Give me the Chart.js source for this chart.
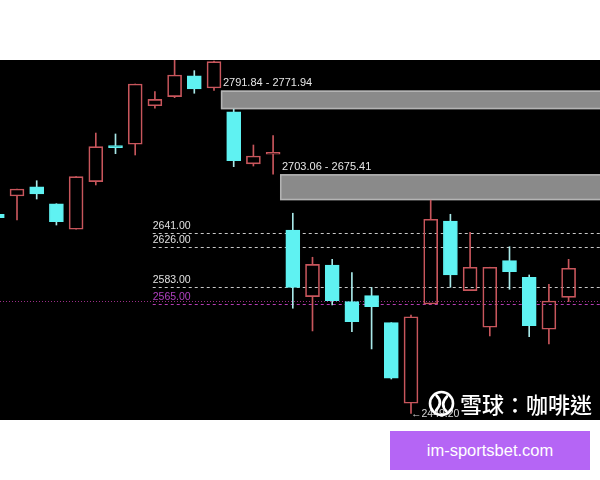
<!DOCTYPE html>
<html>
<head>
<meta charset="utf-8">
<script src="https://cdn.jsdelivr.net/npm/chart.js@4.4.1/dist/chart.umd.min.js"></script>
<style>
    html, body { margin: 0; padding: 0; background: #ffffff; }
    #page { position: relative; width: 600px; height: 480px; overflow: hidden; background: #ffffff; }
    #chart-box { position: absolute; left: 0; top: 60px; width: 600px; height: 360px; background: #000000; }
    #mark { position: absolute; left: 428px; top: 390px; height: 26px; display: flex; align-items: center; }
    #mark-text { margin-left: 5px; color: #ffffff; font: 500 22px "Noto Sans CJK TC", sans-serif; line-height: 22px; }
    #btn { position: absolute; left: 390px; top: 431px; width: 200px; height: 39px; background: #b565f5;
           color: #ffffff; font: 16.5px "Liberation Sans", Arial, sans-serif; line-height: 39px; text-align: center; }
</style>
</head>
<body>
<div id="page">
    <div id="chart-box"><canvas id="chart-k"></canvas></div>
    <div id="mark">
        <svg width="27" height="27" viewBox="-13.5 -13.5 27 27">
            <circle cx="0" cy="0" r="11.5" fill="none" stroke="#ffffff" stroke-width="2.6"/>
            <path d="M -5 -8 Q 2 -1 -5.5 7" fill="none" stroke="#ffffff" stroke-width="2.6" stroke-linecap="round"/>
            <path d="M 5 8 Q -2 1 5.5 -7" fill="none" stroke="#ffffff" stroke-width="2.6" stroke-linecap="round"/>
        </svg>
        <span id="mark-text">雪球：咖啡迷</span>
    </div>
    <div id="btn">im-sportsbet.com</div>
</div>
<script>
// candle index 0 is the one cut off at the left edge
const opens  = [2660.5, 2679.9, 2689.5, 2671.7, 2644.6, 2695.1, 2733.3, 2734.8, 2775.7, 2785.3,
                2807.5, 2794.5, 2769.3, 2713.9, 2724.2, 2643.8, 2573.1, 2606.7, 2567.8, 2574.1,
                2545.5, 2460.0, 2565.3, 2653.4, 2579.4, 2540.6, 2611.3, 2593.6, 2538.5, 2572.4];
const highs  = [2661.0, 2687.3, 2696.1, 2671.7, 2700.4, 2746.7, 2745.7, 2798.7, 2790.6, 2830.0,
                2812.9, 2823.0, 2771.94, 2734.0, 2743.9, 2661.6, 2614.9, 2612.7, 2598.5, 2583.0,
                2545.5, 2553.6, 2675.41, 2660.5, 2641.4, 2604.3, 2626.1, 2596.1, 2586.2, 2612.7];
const lows   = [2656.0, 2654.4, 2676.7, 2649.1, 2644.6, 2691.6, 2724.8, 2723.4, 2773.0, 2784.2,
                2788.9, 2791.84, 2711.0, 2711.7, 2703.06, 2560.8, 2536.7, 2564.3, 2535.9, 2517.6,
                2485.7, 2449.2, 2565.3, 2583.0, 2579.4, 2531.4, 2580.9, 2530.6, 2522.9, 2567.8];
const closes = [2656.9, 2687.3, 2682.0, 2652.6, 2700.4, 2732.2, 2731.2, 2798.7, 2782.5, 2808.3,
                2793.4, 2822.4, 2717.4, 2722.3, 2726.3, 2583.0, 2607.4, 2568.8, 2546.5, 2562.5,
                2486.5, 2551.8, 2655.2, 2596.1, 2604.3, 2604.3, 2599.6, 2542.3, 2568.5, 2603.2];

// gap bands: top, bottom, candle index they start after
const gapTops    = [2791.84, 2703.06];
const gapBottoms = [2771.94, 2675.41];
const gapFrom    = [11, 14];

// horizontal marks on the right
const levelPrices = [2641.00, 2626.00, 2583.00, 2565.00];
const levelMagenta = [false, false, false, true];
const priceLine = 2568.8;
const lowMarkIdx = 21;

const UP = '#c8565c';
const DOWN = '#5ff2f2';

/**
 * Builds {x, y:[a,b]} points for the bodies and both wick halves.
 */
function buildSeries() {
    const bodies = [], upper = [], lower = [];
    opens.forEach((o, i) => {
        const c = closes[i];
        const top = Math.max(o, c), bot = Math.min(o, c);
        bodies.push({ x: i, y: [o, c] });
        upper.push({ x: i, y: [top, highs[i]] });
        lower.push({ x: i, y: [lows[i], bot] });
    });
    return { bodies, upper, lower };
}

const isUp = i => closes[i] >= opens[i];

/**
 * Gap bands, level lines and their labels, drawn behind the candles.
 */
const overlayPlugin = {
    id: 'overlay',
    beforeDatasetsDraw(chart) {
        const { ctx, chartArea, scales: { x, y } } = chart;
        ctx.save();

        // gap bands
        gapTops.forEach((t, k) => {
            const x0 = x.getPixelForValue(gapFrom[k] + 0.35);
            const y0 = y.getPixelForValue(t);
            const y1 = y.getPixelForValue(gapBottoms[k]);
            ctx.fillStyle = '#8a8a8a';
            ctx.fillRect(x0, y0, chartArea.right - x0, y1 - y0);
            ctx.strokeStyle = '#b4b4b4';
            ctx.lineWidth = 1.5;
            ctx.strokeRect(x0 + 0.75, y0 + 0.75, chartArea.right - x0 + 5, y1 - y0 - 1.5);
            ctx.fillStyle = '#e6e6e6';
            ctx.font = '11px "Liberation Sans", Arial, sans-serif';
            ctx.textBaseline = 'alphabetic';
            ctx.fillText(t.toFixed(2) + ' - ' + gapBottoms[k].toFixed(2), x0 + 2, y0 - 4);
        });

        // full width price line
        const py = Math.round(y.getPixelForValue(priceLine)) + 0.5;
        ctx.strokeStyle = '#9a2e86';
        ctx.lineWidth = 1;
        ctx.setLineDash([1, 2]);
        ctx.beginPath();
        ctx.moveTo(chartArea.left, py);
        ctx.lineTo(chartArea.right, py);
        ctx.stroke();

        // level lines
        const lx = x.getPixelForValue(7.89);
        levelPrices.forEach((p, k) => {
            const ly = Math.round(y.getPixelForValue(p)) + 0.5;
            ctx.strokeStyle = levelMagenta[k] ? '#b43cb4' : '#c8c8c8';
            ctx.setLineDash([3, 3]);
            ctx.beginPath();
            ctx.moveTo(lx, ly);
            ctx.lineTo(chartArea.right, ly);
            ctx.stroke();
            ctx.fillStyle = levelMagenta[k] ? '#b040c0' : '#e0e0e0';
            ctx.font = '10.5px "Liberation Sans", Arial, sans-serif';
            ctx.fillText(p.toFixed(2), lx, ly - 4.5);
        });
        ctx.setLineDash([]);
        ctx.restore();
    },
    afterDatasetsDraw(chart) {
        const { ctx, scales: { x, y } } = chart;
        ctx.save();
        ctx.fillStyle = '#d8d8d8';
        ctx.font = '10.5px "Liberation Sans", Arial, sans-serif';
        ctx.textBaseline = 'middle';
        ctx.fillText('\u2190' + lows[lowMarkIdx].toFixed(2), x.getPixelForValue(lowMarkIdx), y.getPixelForValue(lows[lowMarkIdx]) + 1);
        ctx.restore();
    }
};

function renderChart() {
    const s = buildSeries();
    const upColor = s.bodies.map((_, i) => isUp(i) ? UP : DOWN);
    const wickColor = s.bodies.map((_, i) => isUp(i) ? UP : '#a8e8e8');
    const bodyFill = s.bodies.map((_, i) => isUp(i) ? 'rgba(0,0,0,0)' : DOWN);

    const wick = data => ({
        data: data,
        backgroundColor: wickColor,
        borderWidth: 0,
        barThickness: 1,
        grouped: false
    });

    new Chart(document.getElementById('chart-k').getContext('2d'), {
        type: 'bar',
        data: {
            datasets: [
                {
                    data: s.bodies,
                    backgroundColor: bodyFill,
                    borderColor: upColor,
                    borderWidth: 1,
                    borderSkipped: false,
                    barThickness: 14,
                    grouped: false
                },
                wick(s.upper),
                wick(s.lower)
            ]
        },
        options: {
            responsive: true,
            maintainAspectRatio: false,
            animation: false,
            layout: { padding: 0 },
            plugins: { legend: { display: false }, tooltip: { enabled: false } },
            scales: {
                x: { type: 'linear', display: false, offset: false, min: 0.137, max: 30.594 },
                y: { type: 'linear', display: false, min: 2442.2, max: 2824.2 }
            }
        },
        plugins: [overlayPlugin]
    });
}

document.addEventListener('DOMContentLoaded', renderChart);
</script>
</body>
</html>
